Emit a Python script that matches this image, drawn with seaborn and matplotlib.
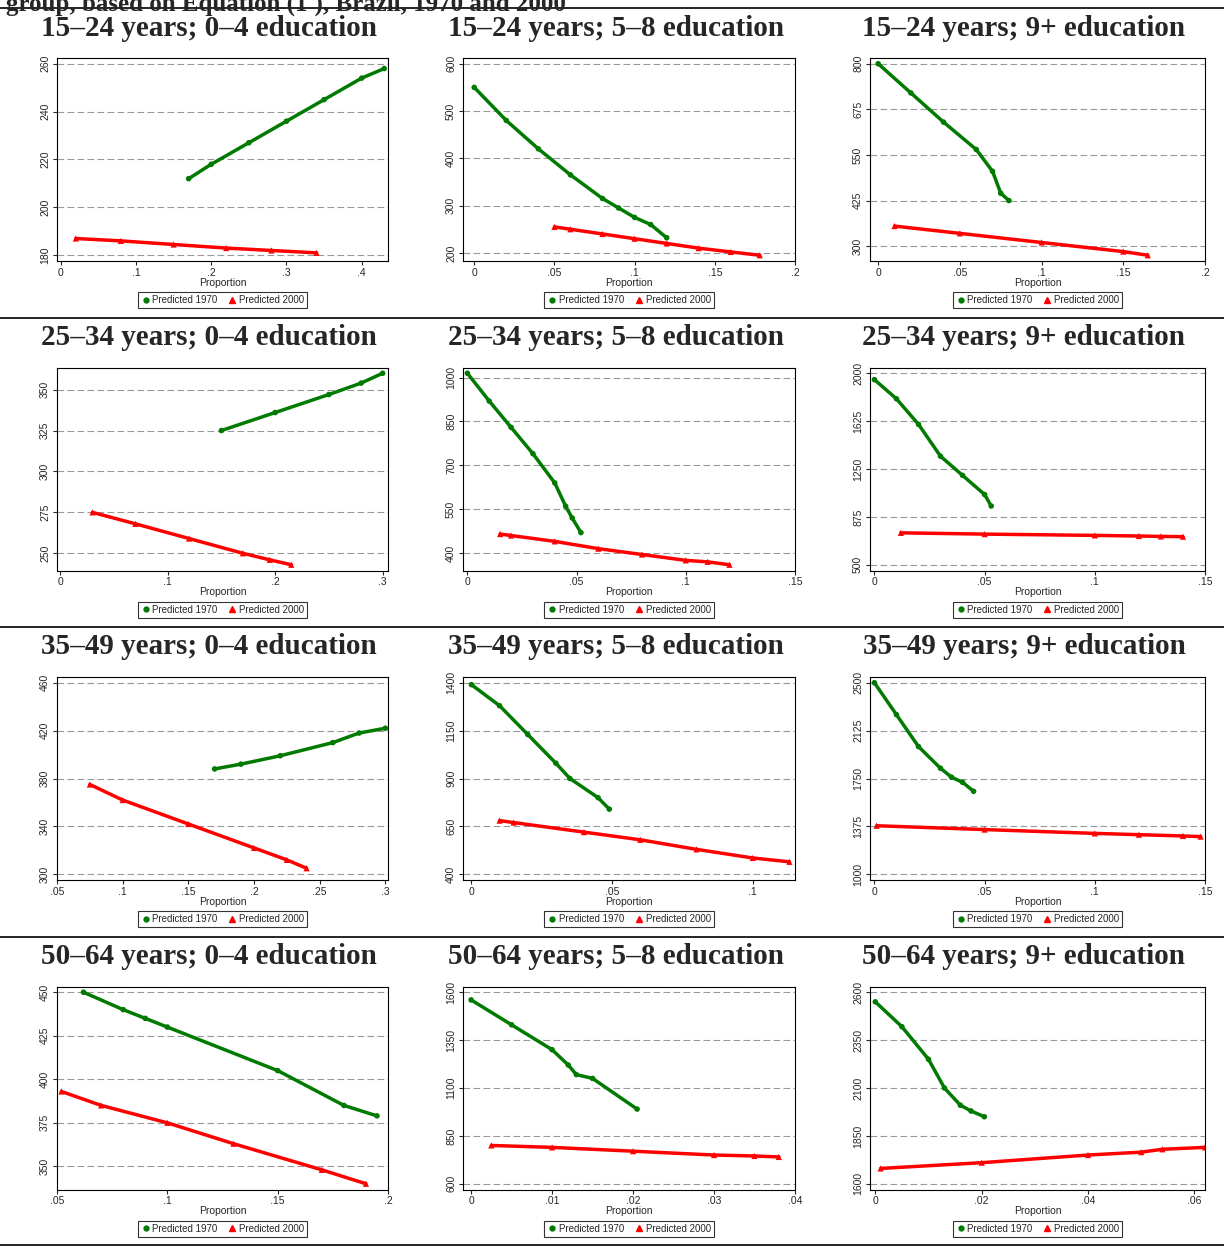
import numpy as np
import pandas as pd
import matplotlib
matplotlib.use("Agg")
import matplotlib.pyplot as plt
from matplotlib.ticker import FuncFormatter
from matplotlib.lines import Line2D
import seaborn as sns

AGES = ["15–24", "25–34", "35–49", "50–64"]
EDUS = ["0–4", "5–8", "9+"]

# (x, y) points: green = Predicted 1970, red = Predicted 2000
G_X = [
    [[0.17, 0.20, 0.25, 0.30, 0.35, 0.40, 0.43],
     [0.0, 0.02, 0.04, 0.06, 0.08, 0.09, 0.10, 0.11, 0.12],
     [0.0, 0.02, 0.04, 0.06, 0.07, 0.075, 0.08]],
    [[0.15, 0.20, 0.25, 0.28, 0.30],
     [0.0, 0.01, 0.02, 0.03, 0.04, 0.045, 0.048, 0.052],
     [0.0, 0.01, 0.02, 0.03, 0.04, 0.05, 0.053]],
    [[0.17, 0.19, 0.22, 0.26, 0.28, 0.30],
     [0.0, 0.01, 0.02, 0.03, 0.035, 0.045, 0.049],
     [0.0, 0.01, 0.02, 0.03, 0.035, 0.04, 0.045]],
    [[0.062, 0.08, 0.09, 0.10, 0.15, 0.18, 0.195],
     [0.0, 0.005, 0.01, 0.012, 0.013, 0.015, 0.0205],
     [0.0, 0.005, 0.01, 0.013, 0.016, 0.018, 0.0205]],
]
G_Y = [
    [[212, 218, 227, 236, 245, 254, 258],
     [550, 480, 420, 365, 315, 295, 275, 260, 232],
     [800, 720, 640, 565, 505, 445, 425]],
    [[325, 336, 347, 354, 360],
     [1015, 920, 830, 740, 640, 560, 520, 470],
     [1950, 1800, 1600, 1350, 1200, 1050, 960]],
    [[388, 392, 399, 410, 418, 422],
     [1390, 1280, 1130, 980, 900, 800, 740],
     [2500, 2250, 2000, 1830, 1760, 1720, 1650]],
    [[450, 440, 435, 430, 405, 385, 379],
     [1560, 1430, 1300, 1220, 1170, 1150, 990],
     [2550, 2420, 2250, 2100, 2010, 1980, 1950]],
]
R_X = [
    [[0.02, 0.08, 0.15, 0.22, 0.28, 0.34],
     [0.05, 0.06, 0.08, 0.10, 0.12, 0.14, 0.16, 0.178],
     [0.01, 0.05, 0.10, 0.15, 0.165]],
    [[0.03, 0.07, 0.12, 0.17, 0.195, 0.215],
     [0.015, 0.02, 0.04, 0.06, 0.08, 0.10, 0.11, 0.12],
     [0.012, 0.05, 0.10, 0.12, 0.13, 0.14]],
    [[0.075, 0.10, 0.15, 0.20, 0.225, 0.24],
     [0.01, 0.015, 0.04, 0.06, 0.08, 0.10, 0.113],
     [0.001, 0.05, 0.10, 0.12, 0.14, 0.148]],
    [[0.052, 0.07, 0.10, 0.13, 0.17, 0.19],
     [0.0025, 0.01, 0.02, 0.03, 0.035, 0.038],
     [0.001, 0.02, 0.04, 0.05, 0.054, 0.062]],
]
R_Y = [
    [[187, 186, 184.5, 183, 182, 181],
     [255, 250, 240, 230, 220, 210, 202, 195],
     [355, 335, 310, 285, 275]],
    [[275, 268, 259, 250, 246, 243],
     [465, 460, 440, 415, 395, 375, 370, 360],
     [750, 740, 730, 725, 722, 720]],
    [[375, 362, 342, 322, 312, 305],
     [680, 670, 620, 580, 530, 485, 465],
     [1380, 1350, 1320, 1310, 1300, 1295]],
    [[393, 385, 375, 363, 348, 340],
     [800, 790, 770, 750, 745, 740],
     [1680, 1710, 1750, 1765, 1780, 1790]],
]
X_TICKS = [
    [[0, .1, .2, .3, .4], [0, .05, .1, .15, .2], [0, .05, .1, .15, .2]],
    [[0, .1, .2, .3], [0, .05, .1, .15], [0, .05, .1, .15]],
    [[.05, .1, .15, .2, .25, .3], [0, .05, .1], [0, .05, .1, .15]],
    [[.05, .1, .15, .2], [0, .01, .02, .03, .04], [0, .02, .04, .06]],
]
X_LIM = [
    [(-0.005, 0.435), (-0.007, 0.2), (-0.005, 0.2)],
    [(-0.003, 0.305), (-0.002, 0.15), (-0.002, 0.15)],
    [(0.05, 0.302), (-0.003, 0.115), (-0.002, 0.15)],
    [(0.05, 0.2), (-0.001, 0.04), (-0.001, 0.062)],
]
Y_TICKS = [
    [[180, 200, 220, 240, 260], [200, 300, 400, 500, 600], [300, 425, 550, 675, 800]],
    [[250, 275, 300, 325, 350], [400, 550, 700, 850, 1000], [500, 875, 1250, 1625, 2000]],
    [[300, 340, 380, 420, 460], [400, 650, 900, 1150, 1400], [1000, 1375, 1750, 2125, 2500]],
    [[350, 375, 400, 425, 450], [600, 850, 1100, 1350, 1600], [1600, 1850, 2100, 2350, 2600]],
]

GREEN = "#007a00"
RED = "#ff0000"

sns.set_style("white")
plt.rcParams["font.family"] = ["Liberation Sans", "DejaVu Sans"]

W, H = 1224, 1247
fig = plt.figure(figsize=(W / 100, H / 100), dpi=100)

fig.text(0.005, 1.006, "group, based on Equation (1'), Brazil, 1970 and 2000",
         family="Liberation Serif", weight="bold", fontsize=18, va="top")

COL_L = [57, 463, 870]
COL_W = [331, 332, 335]
TITLE_X = [209, 616, 1024]
ROW_T = 58
ROW_P = 309.5
AX_H = 203


def fmt(v, _):
    s = f"{v:g}"
    return s[1:] if s.startswith("0.") else s


for r in range(4):
    yline = 1 - (8 + r * ROW_P) / H
    fig.add_artist(Line2D([0, 1], [yline, yline], color="black", lw=1.2))
    for c in range(3):
        top = ROW_T + r * ROW_P
        ax = fig.add_axes([COL_L[c] / W, 1 - (top + AX_H) / H, COL_W[c] / W, AX_H / H])
        g = pd.DataFrame({"x": G_X[r][c], "y": G_Y[r][c]})
        rd = pd.DataFrame({"x": R_X[r][c], "y": R_Y[r][c]})
        sns.lineplot(data=g, x="x", y="y", color=GREEN, lw=2.5, ax=ax, sort=False)
        sns.lineplot(data=rd, x="x", y="y", color=RED, lw=2.5, ax=ax, sort=False)
        sns.scatterplot(data=g, x="x", y="y", color=GREEN, marker="o", s=16,
                        edgecolor="none", ax=ax)
        sns.scatterplot(data=rd, x="x", y="y", color=RED, marker="^", s=20,
                        edgecolor="none", ax=ax)
        yt = Y_TICKS[r][c]
        lo = min(yt[0], min(G_Y[r][c]), min(R_Y[r][c]))
        hi = max(yt[-1], max(G_Y[r][c]), max(R_Y[r][c]))
        pad = (hi - lo) * 0.03
        ax.set_ylim(lo - pad, hi + pad)
        ax.set_yticks(yt)
        ax.set_xticks(X_TICKS[r][c])
        ax.set_xlim(*X_LIM[r][c])
        ax.xaxis.set_major_formatter(FuncFormatter(fmt))
        for v in yt:
            ax.axhline(v, color="#999999", lw=0.8, ls=(0, (6, 3)), zorder=0)
        ax.tick_params(axis="both", labelsize=7.5, length=3, direction="out",
                       left=True, bottom=True, pad=2)
        for lab in ax.get_yticklabels():
            lab.set_rotation(90)
            lab.set_va("center")
        for s in ax.spines.values():
            s.set_color("black")
            s.set_linewidth(0.8)
        ax.set_xlabel("Proportion", fontsize=7.5, labelpad=0)
        ax.set_ylabel("")
        handles = [
            Line2D([], [], marker="o", color=GREEN, ls="", ms=3.5, label="Predicted 1970"),
            Line2D([], [], marker="^", color=RED, ls="", ms=4, label="Predicted 2000"),
        ]
        leg = ax.legend(handles=handles, loc="upper center", bbox_to_anchor=(0.5, -0.13),
                        ncol=2, fontsize=7, frameon=True, fancybox=False,
                        handletextpad=0.2, columnspacing=1.0, borderpad=0.3,
                        handlelength=1.0)
        leg.get_frame().set_edgecolor("black")
        leg.get_frame().set_linewidth(0.8)
        fig.text(TITLE_X[c] / W, 1 - (28 + r * ROW_P) / H,
                 f"{AGES[r]} years; {EDUS[c]} education",
                 family="Liberation Serif", weight="bold", fontsize=21,
                 ha="center", va="center")

fig.add_artist(Line2D([0, 1], [1 - 1245 / H] * 2, color="black", lw=1.2))
fig.savefig("out.png", dpi=100)
